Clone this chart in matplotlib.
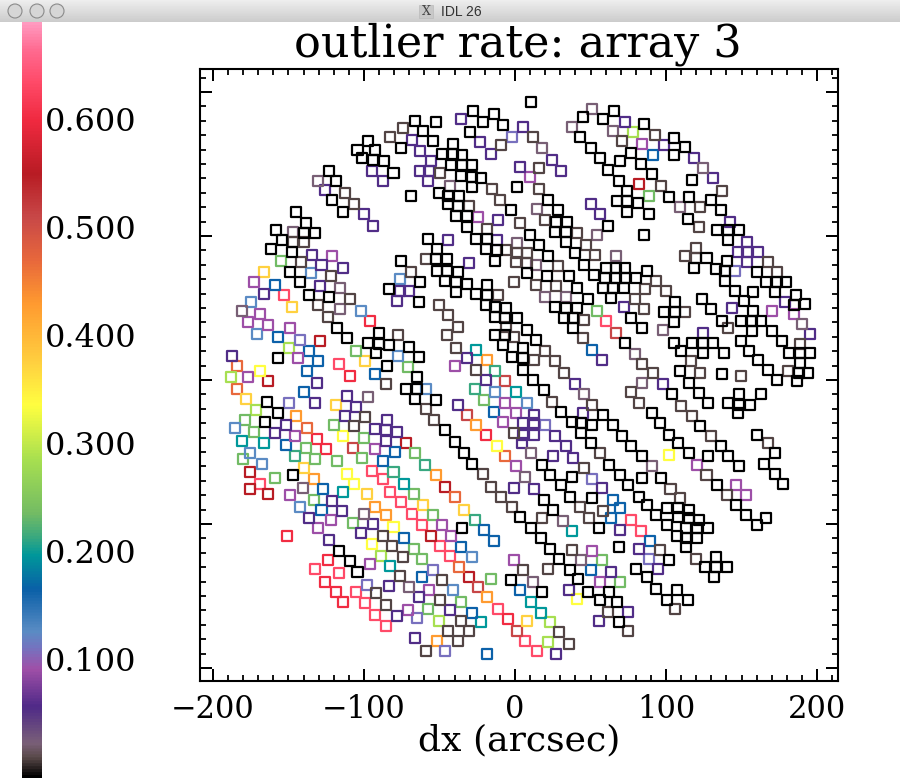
import matplotlib
matplotlib.use("Agg")
import matplotlib.pyplot as plt
import numpy as np
from matplotlib.colors import LinearSegmentedColormap, Normalize
from matplotlib.patches import Ellipse, Rectangle
from matplotlib.ticker import MultipleLocator

TITLE = "outlier rate: array 3"
XLABEL = "dx (arcsec)"
WINDOW_TITLE = "IDL 26"
COLORBAR_TICKS = [0.1, 0.2, 0.3, 0.4, 0.5, 0.6]

# The dx readings below were taken against a first, slightly-off reading of the x ticks.
# These two numbers recalibrate them to the ticks as measured on the reference.
DX_GAIN = 1.0364
DX_OFFSET = -0.66

black_pts = [(-26,187),(-13,185),(-20,179),(-7,177),(-28,172),(-63,180),(-50,179),(-58,173),(-52,166),(-72,161),(-39,164),(-93,166),(-100,160),(-89,160),(-97,154),(-90,153),(-83,152),(-77,144),(-46,157),(-39,157),(-33,156),(-40,149),(-33,149),(-27,149),(-34,142),(-27,141),(-21,140),(-27,134),(-48,130),(-42,128),(-35,128),(-42,122),(-36,121),(-2,118),(-37,114),(-30,114),(-30,106),(-24,98),(-17,98),(-18,91),(-11,90),(-12,83),(-55,98),(-49,91),(-50,84),(-43,84),(-72,83),(-49,76),(-43,76),(-36,75),(-44,69),(-37,68),(-30,67),(-17,66),(-37,61),(-24,60),(-17,59),(-18,52),(-12,51),(-5,50),(-12,44),(-6,43),(-12,31),(-6,31),(-7,24),(-1,16),(-60,68),(-80,63),(-61,54),(-66,128),(-118,145),(-114,138),(-116,125),(-109,117),(-139,117),(-133,109),(-152,104),(-134,102),(-127,102),(-148,97),(-155,91),(-142,89),(-143,75),(-137,68),(-131,59),(-118,58),(-113,36),(-107,29),(-86,33),(-93,26),(-86,25),(-80,24),(-67,23),(-88,19),(-81,10),(-61,16),(-151,15),
(11,193),(44,183),(64,187),(57,181),(83,178),(42,169),(49,161),(55,154),(60,146),(68,152),(81,150),(75,158),(102,168),(109,162),(102,156),(67,138),(88,143),(72,131),(66,124),(72,124),(79,123),(72,117),(86,115),(99,127),(112,127),(126,125),(132,118),(111,112),(114,139),(130,104),(137,104),(144,104),(137,97),(60,107),(83,101),(22,125),(28,118),(27,110),(34,110),(26,103),(33,103),(33,96),(39,88),(45,80),(51,73),(59,78),(65,78),(71,78),(58,71),(65,71),(71,71),(78,71),(85,76),(57,64),(63,64),(70,64),(62,57),(47,56),(40,64),(35,72),(8,74),(21,72),(16,94),(10,101),(22,86),(2,134),(2,43),(8,35),(14,28),(6,22),(6,15),(6,7),(26,51),(33,50),(40,50),(32,43),(38,43),(38,36),(71,26),(75,43),(82,36),(103,54),(96,47),(103,47),(102,40),(120,56),(126,49),(133,41),(115,78),(123,85),(129,77),(136,83),(135,76),(135,69),(155,75),(161,68),(168,68),(174,68),(141,62),(153,61),(167,61),(180,59),(186,53),(147,55),(153,48),(179,52),(145,41),(152,41),(158,41),(152,34),(165,34),(171,27),(145,27),(150,20),(176,19),(183,19),(189,19),(156,14),(162,7),(183,12),(188,5),(182,5),(102,26),(107,20),(114,26),(121,26),(127,26),(121,19),(134,19),(106,6),(133,4),
(12,0),(19,-7),(30,-22),(37,-29),(43,-30),(50,-31),(57,-24),(63,-31),(69,-39),(75,-46),(82,-53),(43,-37),(49,-44),(61,-59),(68,-66),(73,-73),(80,-81),(85,-87),(91,-94),(98,-101),(104,-108),(110,-116),(98,-89),(105,-89),(112,-90),(105,-95),(112,-96),(118,-97),(124,-103),(117,-103),(110,-103),(117,-110),(110,-110),(101,-10),(88,-23),(93,-30),(99,-38),(105,-44),(112,-51),(118,-9),(124,-16),(119,-32),(132,-46),(124,-53),(137,-53),(144,-60),(130,-73),(142,-87),(148,-94),(161,-96),(155,-101),(137,-16),(144,-10),(158,-10),(151,-17),(144,-17),(143,-23),(155,-38),(167,-51),(160,-58),(167,-65),(172,-72),(18,-59),(23,-66),(30,-73),(37,-67),(36,-81),(50,-82),(19,-83),(25,-90),(4,-95),(11,-103),(17,-110),(23,-117),(29,-124),(36,-132),(41,-138),(54,-103),(67,-116),(82,-68),(94,-68),(129,-123),(122,-130),(129,-130),(136,-130),(128,-137),(78,-131),(85,-137),(99,-125),(91,-145),(98,-153),(104,-146),(111,-153),(47,-147),(55,-153),(61,-147),(66,-154),(67,-168),(18,-147),(168,0),(181,-1),(112,-2),
(-62,2),(-69,-6),(-62,-6),(-50,-14),(-63,-13),(-158,-15),(-151,-23),(-159,-29),(-44,-35),(-38,-43),(-32,-51),(-27,-58),(-141,-66),(-33,-103),(-112,-119),(-105,-126),(-100,-133),(-2,-139)]

brown_pts = [(-71,175),(-79,169),(-47,144),(-14,133),(-9,125),(-29,121),(-17,105),(-5,90),(1,82),(-56,84),(-66,75),(0,68),(-10,59),(-117,72),(-105,56),(-125,52),(-119,44),(-48,52),(-42,45),(-36,37),(-43,31),(-37,22),(-5,37),(0,30),(-74,31),(-24,7),(-8,163),(-108,130),(-102,122),(-134,96),(-141,96),(-136,82),
(12,169),(16,147),(16,133),(90,170),(94,135),(69,166),(133,131),(119,120),(118,106),(116,92),(109,86),(116,85),(20,111),(4,109),(40,102),(46,94),(52,87),(91,69),(97,62),(84,63),(77,56),(83,49),(45,42),(109,47),(137,36),(44,29),(20,20),(26,13),(32,5),(13,14),(82,11),(89,5),(119,5),(145,3),(113,13),(168,75),(162,82),(183,25),(175,6),(28,79),(27,65),(14,66),(2,88),(8,88),(8,81),
(75,-8),(80,-16),(107,-18),(114,-25),(126,-39),(123,-66),(136,-80),(100,-76),(106,-82),(24,-15),(50,-17),(55,-51),(45,-61),(42,-88),(57,-91),(48,-96),(18,-96),(37,-118),(22,-131),(6,-132),(116,-124),(103,-159),(60,-161),(73,-174),(29,-175),(35,-183),(162,-44),(93,-118),
(-82,-3),(-56,-20),(-51,-28),(0,-37),(-20,-65),(-15,-74),(-8,-81),(-1,-88),(-95,-26),(-102,-32),(-84,-108),(-78,-115),(-73,-136),(-71,-123),(-46,-139),(-88,-148),(-82,-156),(-47,-153),(-34,-167),(-42,-174),(-36,-181),(-29,-174),(-56,-188)]

mauve_pts = [(-125,138),(-41,135),(-141,103),(-111,49),(-174,48),(-111,64),(50,188),(37,176),(63,173),(18,161),(15,119),(53,101),(65,86),(106,120),(33,58),(20,58),(95,35),(77,18),(14,80),(2,95),(184,39),(121,147),(82,-2),(45,-10),(88,-60),(31,-98),(11,-51),(12,-140),(43,-125),(7,-67),(-93,-12),(-135,-75),(-96,-93),(-67,-144)]

dark_purple_pts = [(-34,181),(-65,167),(-60,159),(-53,152),(-60,145),(-54,145),(-55,138),(-91,145),(-84,138),(-121,132),(-96,115),(-90,107),(-10,111),(-11,97),(-42,97),(-29,81),(-22,165),(-15,157),(-129,87),(-123,80),(-109,78),(-124,65),(-73,62),(-67,62),(-75,55),(-160,60),(-180,17),(-30,15),
(6,176),(71,179),(24,153),(30,145),(4,148),(96,163),(115,154),(127,140),(49,122),(55,115),(138,110),(149,96),(143,89),(149,89),(156,89),(149,82),(70,51),(121,33),(139,50),(173,54),(189,32),(56,14),
(39,-3),(95,-3),(44,-23),(13,-24),(6,-30),(13,-30),(6,-38),(13,-38),(26,-39),(33,-46),(5,-44),(25,-53),(38,-54),(56,-75),(13,-76),(68,-104),(80,-117),(92,-131),(62,-133),(35,-146),(73,-161),(54,-167),(27,-190),
(-126,-2),(-18,0),(-127,-16),(-101,-19),(-107,-11),(-108,-25),(-36,-17),(-146,-31),(-153,-37),(-81,-28),(-89,-34),(-82,-35),(-75,-36),(-82,-42),(0,-75),(-116,-84),(-110,-91),(-131,-96),(-90,-100),(-118,-111),(-98,-106),(-80,-143),(-61,-151),(-75,-164),(-41,-160),(-63,-179)]

purple_pts = [(-23,113),(-116,86),(-166,68),(-162,46),(-170,40),(-157,38),(-143,36),(-138,15),(-38,10),(82,164),(10,141),(165,48),(179,46),(50,-119),(55,-140),(142,-73),(148,-80),(117,-59),(-170,2),(-140,-39),(-89,-48),(-6,-16),(-7,-29),(1,-23),(-143,-80),(-117,-97),(-125,-103),(-92,-128),(-46,-101),(-40,-108),(-54,-146),(-68,-160),(0,-125),(1,-60)]

periwinkle_pts = [(-1,169),(141,76),(20,-31),(50,-69),(86,-124),(-144,-16),(-94,-142),(-62,-165),(-52,-132),(-44,-188),(-137,28)]

light_blue_pts = [(-130,74),(-73,70),(-98,48),(-168,54),(-164,32),(-74,17),(8,-16),(-178,-33),(-169,-51),(-161,-58),(-137,-88),(-27,-123),(-56,-6),(-12,-8),(-39,-146)]

blue_pts = [(-153,66),(-151,30),(-131,20),(-125,13),(-132,6),(-89,4),(89,156),(50,21),(63,-83),(68,-89),(62,-96),(87,-112),(49,-132),(4,-146),(-134,-8),(-146,-45),(-122,-76),(-123,-90),(-76,-50),(-84,-56),(-70,-110),(-59,-137),(-13,-22),(-34,-116),(-19,-104),(-13,-112),(-27,-162),(-17,-190)]

teal_pts = [(-24,21),(1,-8),(37,-105),(11,-154),(17,-162),(-174,-42),(-160,-44),(-109,-78),(-70,-72),(-79,-129),(-21,-168)]

teal_green_pts = [(-12,6),(-140,-53),(-77,-64),(-57,-59),(-25,-97),(-25,-6)]

green_pts = [(-149,83),(-101,20),(-68,9),(86,128),(53,48),(56,-125),(68,-140),(-172,-28),(-115,-31),(-96,-40),(-97,-54),(-113,-56),(-133,-47),(-173,-55),(-153,-68),(-103,-99),(-128,-83),(-63,-51),(-64,-79),(-52,-94),(-64,-117),(-59,-124),(-15,-138),(-55,-159),(-34,-154),(-19,-14),(-127,-55),(-166,-36)]

yellow_green_pts = [(-144,22),(76,172),(23,-168),(22,-182),(-181,2),(-165,-21),(-85,-122),(-48,-167)]

yellow_pts = [(-162,6),(99,-52),(40,-152),(-109,-39),(-107,-65),(-102,-72),(-77,-102),(-91,-114),(-11,-46)]

gold_pts = [(-160,75),(-142,51),(-95,13),(8,-167),(-171,-13),(-114,-17),(-134,-61),(-94,-79),(-58,-87),(-32,-90)]

orange_pts = [(-17,14),(-139,-25),(-128,-69),(-89,-88),(-82,-94),(-24,-31),(-50,-66),(-17,-151),(-49,-181)]

orange_red_pts = [(-177,10),(-177,-6),(-132,-33),(-6,-53),(-38,-81),(-35,-130)]

red_brown_pts = [(65,33),(2,-174),(-103,-47),(-30,-24),(-6,-1),(-23,-144)]

dark_red_pts = [(-124,27),(80,136),(-157,-1),(-169,-64),(-169,-76),(-157,-79),(-69,-44),(-44,-74),(-53,-108),(-29,-137)]

red_pts = [(-92,41),(-105,3),(-119,-125),(-121,-140),(-114,-147),(-109,-154),(-145,-108),(-126,-41),(-120,-48),(-18,-38),(-4,-166)]

pink_pts = [(-147,59),(-112,11),(59,41),(75,-97),(81,-105),(7,-181),(15,-188),(-162,-72),(-127,-131),(-112,-134),(-101,-147),(-95,-155),(-89,-163),(-82,-171),(-91,-63),(-84,-69),(-79,-78),(-72,-85),(-65,-93),(-59,-101),(-47,-115),(-41,-122),(-10,-159)]

# (points, outlier rate) for every group of squares
groups = [
    (pink_pts, 0.635), (red_pts, 0.60), (dark_red_pts, 0.55), (red_brown_pts, 0.51),
    (orange_red_pts, 0.47), (orange_pts, 0.43), (gold_pts, 0.375), (yellow_pts, 0.335),
    (yellow_green_pts, 0.285), (green_pts, 0.235), (teal_green_pts, 0.212), (teal_pts, 0.196),
    (blue_pts, 0.164), (light_blue_pts, 0.125), (periwinkle_pts, 0.11), (purple_pts, 0.09),
    (dark_purple_pts, 0.055), (mauve_pts, 0.021), (brown_pts, 0.008), (black_pts, -0.01),
]

stops = [(-0.01,"#000000"),(0.008,"#5a4a4a"),(0.021,"#7a6078"),(0.055,"#4f2a88"),(0.09,"#a050a8"),
         (0.11,"#7474c0"),(0.125,"#5a8cc4"),(0.164,"#0a60a8"),(0.196,"#00989a"),(0.212,"#38a880"),
         (0.235,"#74bc64"),(0.285,"#a8e050"),(0.335,"#ffff40"),(0.375,"#ffd040"),(0.43,"#ff9a30"),
         (0.47,"#e8683c"),(0.51,"#c84848"),(0.55,"#b81c24"),(0.60,"#f02a40"),(0.635,"#ff4a68"),
         (0.665,"#ff6a90"),(0.69,"#ff9ac0")]
vmin, vmax = -0.01, 0.69
cmap = LinearSegmentedColormap.from_list(
    "idl", [((v - vmin) / (vmax - vmin), c) for v, c in stops], N=256)
norm = Normalize(vmin, vmax)

W, H = 900, 778
fig = plt.figure(figsize=(W / 100, H / 100), dpi=100, facecolor="white")
FONT = "DejaVu Serif"

def box(l, t, r, b):
    return [l / W, 1 - b / H, (r - l) / W, (b - t) / H]

# window title bar
bar = fig.add_axes(box(0, 0, W, 22))
bar.imshow(np.linspace(0.93, 0.80, 22)[:, None], cmap="gray", vmin=0, vmax=1, aspect="auto")
bar.axis("off")
for cx in (15, 37, 57):
    fig.add_artist(Ellipse((cx / W, 1 - 11 / H), 14 / W, 14 / H,
                   transform=fig.transFigure, fc="#d6d6d6", ec="#8a8a8a", lw=0.8))
fig.add_artist(Rectangle((419 / W, 1 - 18 / H), 14 / W, 13 / H, transform=fig.transFigure,
                         fc="#c8c8c8", ec="#bbbbbb", lw=0.5))
fig.text(426 / W, 1 - 11.5 / H, "X", fontsize=9, family=FONT, ha="center", va="center", color="#444444")
fig.text(441 / W, 1 - 11.5 / H, WINDOW_TITLE, fontsize=10, family="Liberation Sans", ha="left",
         va="center", color="#333333")

# colour bar
cax = fig.add_axes(box(22, 22, 42, 778))
cax.imshow(np.linspace(vmax, vmin, 512)[:, None], cmap=cmap, norm=norm, aspect="auto",
           extent=[0, 1, vmin, vmax])
cax.set_xticks([])
cax.yaxis.tick_right()
cax.set_yticks(COLORBAR_TICKS, [f"{v:.3f}" for v in COLORBAR_TICKS], family=FONT, fontsize=23)
cax.tick_params(axis="y", length=0, pad=2)
for s in cax.spines.values():
    s.set_visible(False)

# main panel
ax = fig.add_axes(box(200, 69, 838, 681))
for pts, rate in groups:
    arr = np.array(pts, dtype=float)
    ax.scatter(DX_GAIN * arr[:, 0] + DX_OFFSET, arr[:, 1], marker="s", s=52, facecolors="none",
               edgecolors=[cmap(norm(rate))], linewidths=1.6, zorder=3)
ax.set_xlim(-208.6, 213.9)
ax.set_ylim(-209, 216)
ax.xaxis.set_major_locator(MultipleLocator(100))
ax.xaxis.set_minor_locator(MultipleLocator(10))
ax.yaxis.set_major_locator(MultipleLocator(100))
ax.yaxis.set_minor_locator(MultipleLocator(10))
ax.tick_params(which="major", direction="in", top=True, right=True, length=8.6, width=1.44,
               labelsize=22, labelleft=False, pad=9)
ax.tick_params(which="minor", direction="in", top=True, right=True, length=4, width=1.3)
for lab in ax.get_xticklabels():
    lab.set_family(FONT)
for s in ax.spines.values():
    s.set_linewidth(1.5)
fig.text(518 / W, 1 - 44 / H, TITLE, family=FONT, fontsize=32, ha="center", va="center")
fig.text(519 / W, 1 - 740 / H, XLABEL, family=FONT, fontsize=26, ha="center", va="center")

fig.savefig("out.png", dpi=100, facecolor="white")
